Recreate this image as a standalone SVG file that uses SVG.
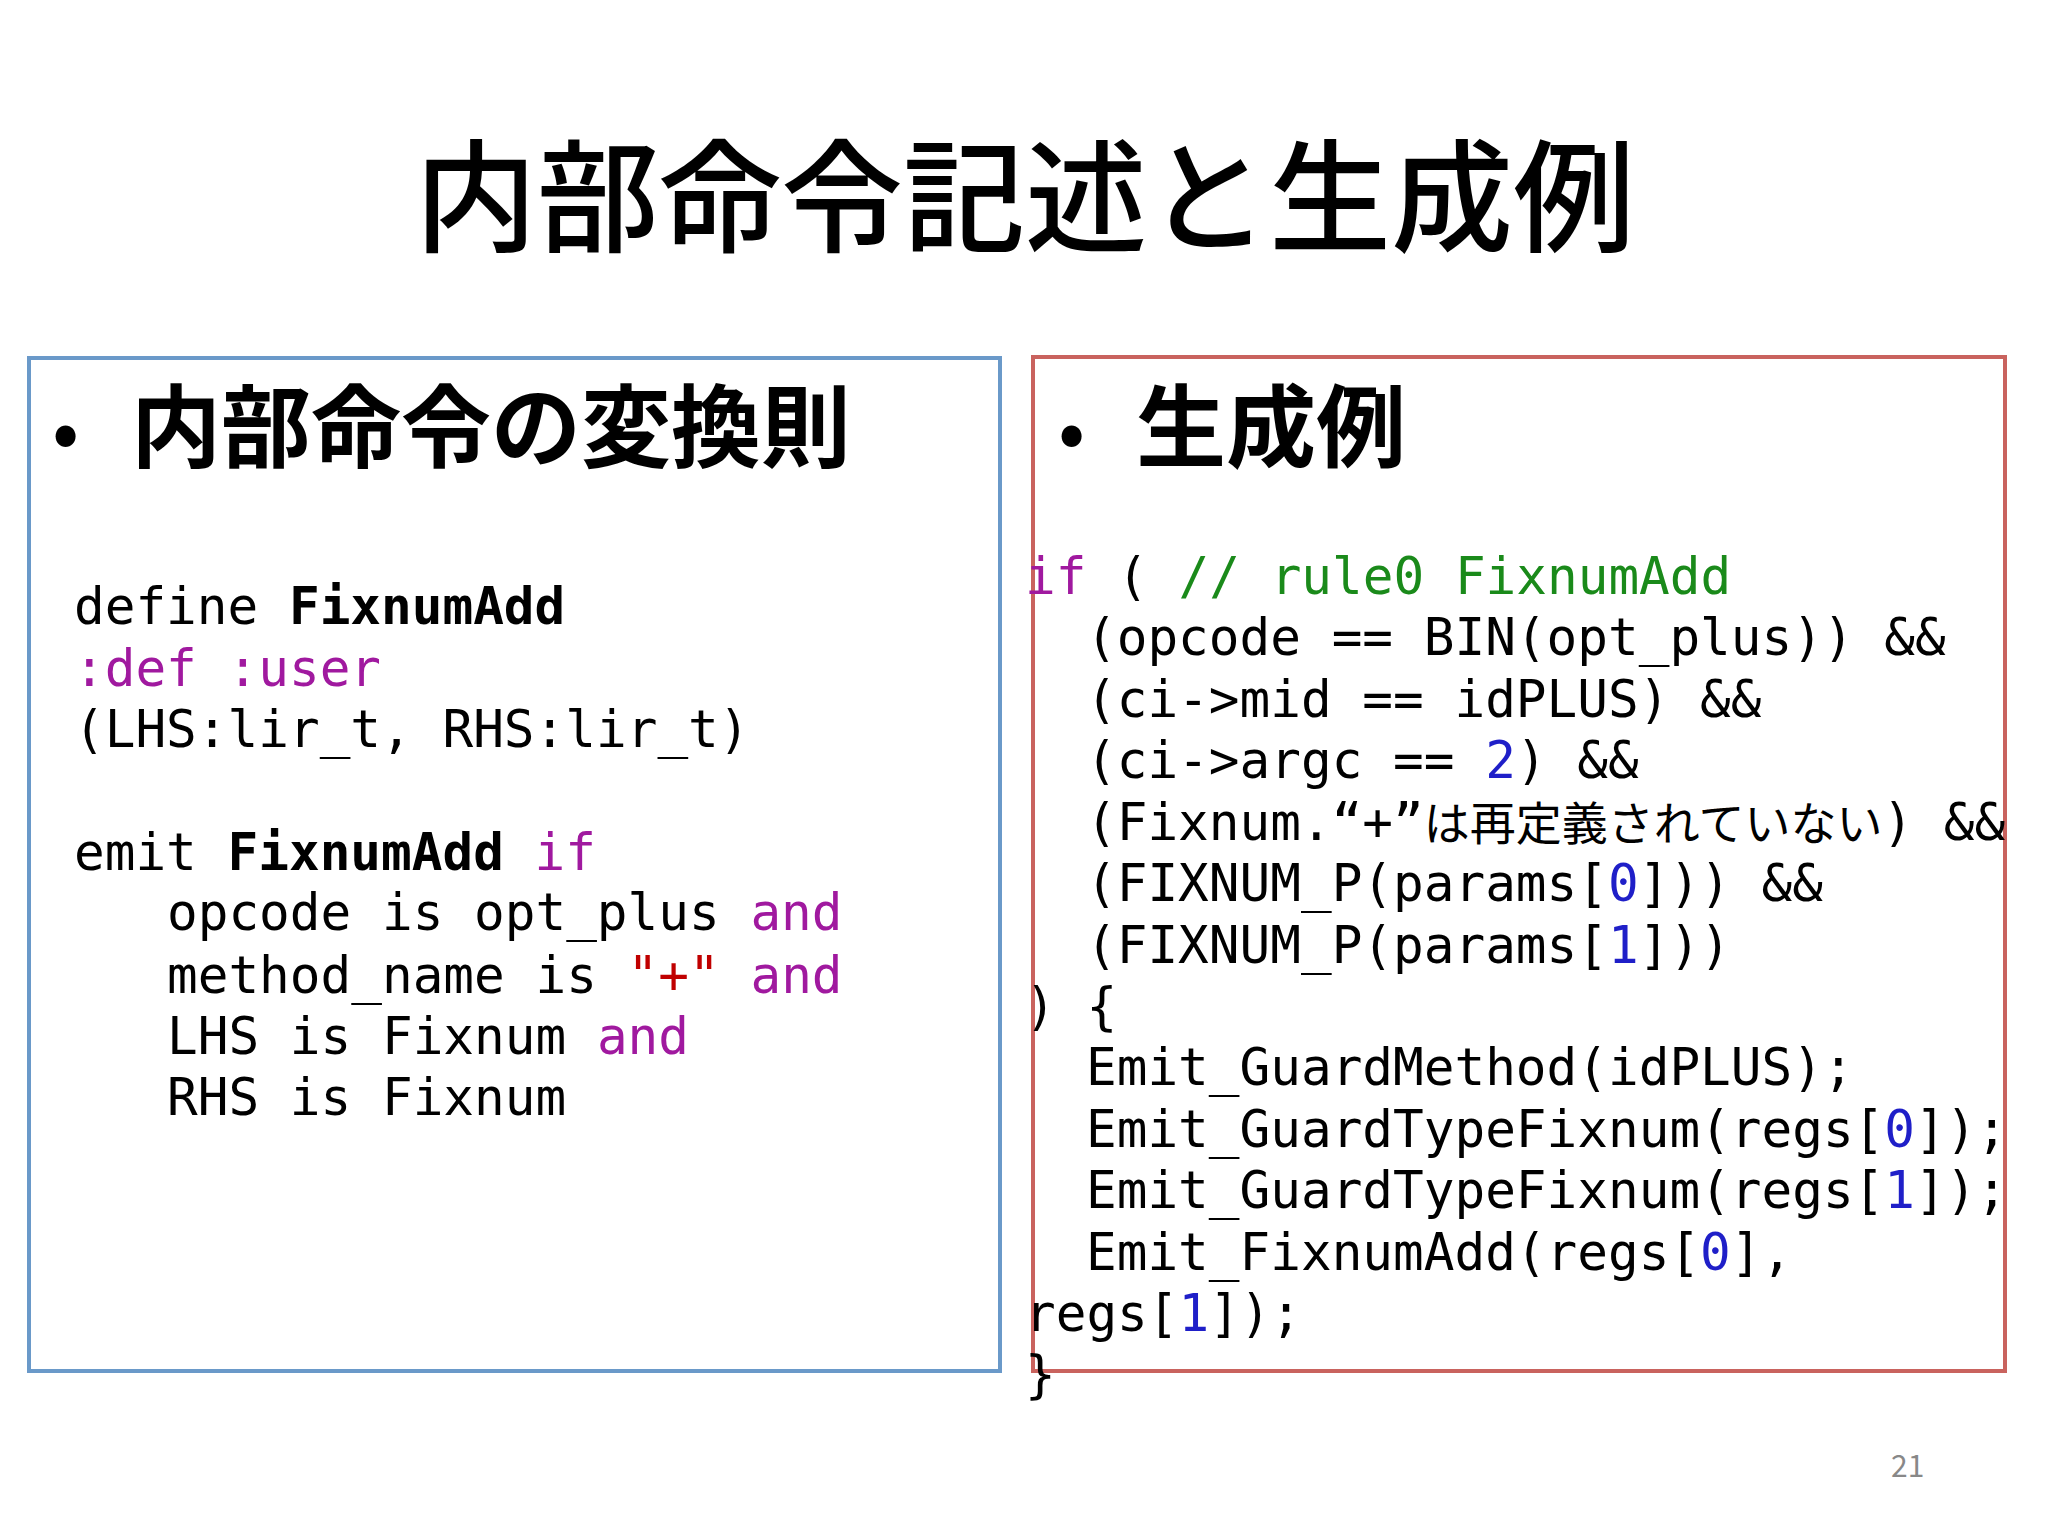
<svg xmlns="http://www.w3.org/2000/svg" width="2048" height="1536" viewBox="0 0 2048 1536">
<style>
.t{font-family:"Noto Sans CJK JP",sans-serif;fill:#000}
.c{font-family:"DejaVu Sans Mono","Noto Sans CJK JP",monospace;fill:#000;white-space:pre}
.l{font-size:51px}
.r{font-size:51px}
.k{fill:#a0199f}
.s{fill:#c00000}
.g{fill:#1a8a1a}
.n{fill:#1f1fc8}
</style>
<rect width="2048" height="1536" fill="#fff"/>
<text class="t" x="1025" y="242" font-size="122" font-weight="500" text-anchor="middle">内部命令記述と生成例</text>
<g id="left">
<rect x="29" y="358" width="971" height="1013" fill="none" stroke="#6a99c9" stroke-width="4"/>
<text class="t" x="52" y="460" font-size="80">•</text>
<text class="t" x="131" y="460" font-size="90" font-weight="bold">内部命令の変換則</text>
<text class="c l" x="74" y="624">define <tspan font-weight="bold">FixnumAdd</tspan></text>
<text class="c l" x="74" y="686"><tspan class="k">:def</tspan> <tspan class="k">:user</tspan></text>
<text class="c l" x="74" y="747">(LHS:lir_t, RHS:lir_t)</text>
<text class="c l" x="74" y="870">emit <tspan font-weight="bold">FixnumAdd</tspan> <tspan class="k">if</tspan></text>
<text class="c l" x="167" y="930">opcode is opt_plus <tspan class="k">and</tspan></text>
<text class="c l" x="167" y="993">method_name is <tspan class="s">"+"</tspan> <tspan class="k">and</tspan></text>
<text class="c l" x="167" y="1054">LHS is Fixnum <tspan class="k">and</tspan></text>
<text class="c l" x="167" y="1115">RHS is Fixnum</text>
</g>
<g id="right">
<rect x="1033" y="357" width="972" height="1014" fill="none" stroke="#c9635e" stroke-width="4"/>
<text class="t" x="1058" y="460" font-size="80">•</text>
<text class="t" x="1136" y="460" font-size="90" font-weight="bold">生成例</text>
<text class="c r" x="1025" y="594"><tspan class="k">if</tspan> ( <tspan class="g">// rule0 FixnumAdd</tspan></text>
<text class="c r" x="1086" y="655">(opcode == BIN(opt_plus)) &amp;&amp;</text>
<text class="c r" x="1086" y="717">(ci-&gt;mid == idPLUS) &amp;&amp;</text>
<text class="c r" x="1086" y="778">(ci-&gt;argc == <tspan class="n">2</tspan>) &amp;&amp;</text>
<text class="c r" x="1086" y="840">(Fixnum.“+”<tspan font-size="46">は再定義されていない</tspan>) &amp;&amp;</text>
<text class="c r" x="1086" y="901">(FIXNUM_P(params[<tspan class="n">0</tspan>])) &amp;&amp;</text>
<text class="c r" x="1086" y="963">(FIXNUM_P(params[<tspan class="n">1</tspan>]))</text>
<text class="c r" x="1025" y="1024">) {</text>
<text class="c r" x="1086" y="1085">Emit_GuardMethod(idPLUS);</text>
<text class="c r" x="1086" y="1147">Emit_GuardTypeFixnum(regs[<tspan class="n">0</tspan>]);</text>
<text class="c r" x="1086" y="1208">Emit_GuardTypeFixnum(regs[<tspan class="n">1</tspan>]);</text>
<text class="c r" x="1086" y="1270">Emit_FixnumAdd(regs[<tspan class="n">0</tspan>],</text>
<text class="c r" x="1025" y="1331">regs[<tspan class="n">1</tspan>]);</text>
<text class="c r" x="1025" y="1392">}</text>
</g>
<text class="t" x="1891" y="1477" font-size="30" style="fill:#888">21</text>
</svg>
